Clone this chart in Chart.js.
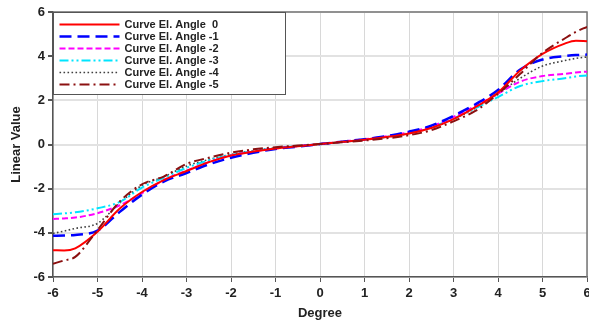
<!DOCTYPE html>
<html>
<head>
<meta charset="utf-8">
<script src="https://cdn.jsdelivr.net/npm/chart.js@4/dist/chart.umd.min.js"></script>
<style>
  html, body { margin: 0; padding: 0; background: #fff; }
  #wrap { width: 589px; height: 325px; }
</style>
</head>
<body>
<div id="wrap"><canvas id="curveChart"></canvas></div>
<script>
// Degree positions (x) shared by every curve
const degrees = [-6, -5.75, -5.5, -5, -4.5, -4, -3.5, -3, -2.5, -2, -1.5, -1, -0.5, 0,
                 0.5, 1, 1.5, 2, 2.5, 3, 3.5, 4, 4.5, 5, 5.5, 5.75, 6];

// Linear value per elevation angle
const angle0  = [-4.79, -4.8, -4.7, -3.95, -2.9, -2.15, -1.6, -1.2, -0.8, -0.5, -0.32, -0.18, -0.08, 0.02,
                 0.12, 0.22, 0.34, 0.5, 0.75, 1.15, 1.7, 2.35, 3.35, 4.1, 4.57, 4.7, 4.68];
const angleM1 = [-4.13, -4.12, -4.1, -3.9, -3.05, -2.27, -1.67, -1.29, -0.9, -0.6, -0.38, -0.2, -0.1, 0.02,
                 0.13, 0.24, 0.38, 0.58, 0.85, 1.3, 1.83, 2.47, 3.4, 3.85, 4.0, 4.05, 4.07];
const angleM2 = [-3.37, -3.35, -3.31, -3.11, -2.75, -2.2, -1.6, -1.18, -0.8, -0.5, -0.32, -0.18, -0.08, 0.02,
                 0.13, 0.24, 0.37, 0.56, 0.82, 1.25, 1.75, 2.3, 2.85, 3.1, 3.2, 3.26, 3.3];
const angleM3 = [-3.16, -3.12, -3.07, -2.89, -2.6, -1.95, -1.5, -1.06, -0.72, -0.47, -0.3, -0.17, -0.07, 0.02,
                 0.12, 0.22, 0.35, 0.52, 0.78, 1.18, 1.65, 2.15, 2.65, 2.87, 3.0, 3.08, 3.13];
const angleM4 = [-4.03, -3.92, -3.8, -3.57, -2.65, -1.85, -1.45, -0.98, -0.68, -0.45, -0.28, -0.15, -0.07, 0.02,
                 0.12, 0.22, 0.34, 0.5, 0.75, 1.15, 1.65, 2.3, 3.0, 3.55, 3.8, 3.9, 3.96];
const angleM5 = [-5.4, -5.25, -5.09, -3.87, -2.58, -1.8, -1.44, -0.88, -0.6, -0.37, -0.22, -0.12, -0.05, 0.02,
                 0.1, 0.18, 0.28, 0.42, 0.65, 1.05, 1.53, 2.29, 3.2, 4.15, 4.8, 5.1, 5.33];

const seriesLabels = ['Curve El. Angle  0', 'Curve El. Angle -1', 'Curve El. Angle -2',
                      'Curve El. Angle -3', 'Curve El. Angle -4', 'Curve El. Angle -5'];

const FONT = '"Liberation Sans", Arial, sans-serif';

function toPoints(values) {
    return degrees.map((d, i) => ({ x: d, y: values[i] }));
}

// Legend box drawn inside the plot, top-left corner
const boxLegend = {
    id: 'boxLegend',
    afterDatasetsDraw(chart) {
        const ctx = chart.ctx;
        const area = chart.chartArea;
        const x0 = Math.round(area.left) + 0.5;
        const y0 = Math.round(area.top) + 0.5;
        const w = 232, h = 82;
        ctx.save();
        ctx.fillStyle = '#fff';
        ctx.fillRect(x0, y0, w, h);
        ctx.strokeStyle = '#555';
        ctx.lineWidth = 1;
        ctx.strokeRect(x0, y0, w, h);
        ctx.font = 'bold 11px ' + FONT;
        ctx.textBaseline = 'middle';
        chart.data.datasets.forEach((ds, i) => {
            const y = y0 + 12 + i * 12;
            ctx.strokeStyle = ds.borderColor;
            ctx.lineWidth = ds.borderWidth;
            ctx.setLineDash(ds.borderDash || []);
            ctx.beginPath();
            ctx.moveTo(x0 + 6, y);
            ctx.lineTo(x0 + 66, y);
            ctx.stroke();
            ctx.setLineDash([]);
            ctx.fillStyle = '#222';
            ctx.fillText(ds.label, x0 + 71, y + 0.5);
        });
        ctx.restore();
    }
};

// Top and right frame of the plot area
const plotFrame = {
    id: 'plotFrame',
    beforeDatasetsDraw(chart) {
        const ctx = chart.ctx;
        const a = chart.chartArea;
        ctx.save();
        ctx.strokeStyle = '#777';
        ctx.lineWidth = 1.5;
        ctx.beginPath();
        ctx.moveTo(a.left, a.top);
        ctx.lineTo(a.right, a.top);
        ctx.lineTo(a.right, a.bottom);
        ctx.stroke();
        ctx.restore();
    }
};

new Chart(document.getElementById('curveChart'), {
    type: 'line',
    data: {
        datasets: [
            { label: seriesLabels[0], data: toPoints(angle0),  borderColor: '#ff0000', borderWidth: 2,   borderDash: [],               order: 2 },
            { label: seriesLabels[1], data: toPoints(angleM1), borderColor: '#0000ff', borderWidth: 2.5, borderDash: [12, 6],          order: 3 },
            { label: seriesLabels[2], data: toPoints(angleM2), borderColor: '#ff00ff', borderWidth: 2,   borderDash: [6, 3],           order: 4 },
            { label: seriesLabels[3], data: toPoints(angleM3), borderColor: '#00e5ff', borderWidth: 2,   borderDash: [9, 3, 2, 3, 2, 3], order: 5 },
            { label: seriesLabels[4], data: toPoints(angleM4), borderColor: '#404040', borderWidth: 1.6, borderDash: [1.6, 2.4],       order: 6 },
            { label: seriesLabels[5], data: toPoints(angleM5), borderColor: '#8b1010', borderWidth: 2,   borderDash: [10, 4, 2, 4],    order: 1 }
        ]
    },
    options: {
        responsive: true,
        maintainAspectRatio: false,
        animation: false,
        layout: { padding: { top: 12, right: 2, left: 0, bottom: 0 } },
        elements: {
            point: { radius: 0 },
            line: { cubicInterpolationMode: 'monotone', fill: false }
        },
        plugins: {
            legend: { display: false },
            tooltip: { enabled: false }
        },
        scales: {
            x: {
                type: 'linear',
                min: -6,
                max: 6,
                afterFit: s => { s.height = 48; s.paddingLeft = 0; s.paddingRight = 0; },
                ticks: { stepSize: 1, color: '#222', font: { family: FONT, size: 13, weight: 'bold' }, padding: 4 },
                grid: { color: '#d8d8d8', lineWidth: 1, tickLength: 5, tickColor: '#555' },
                border: { color: '#555', width: 1.5 },
                title: { display: true, text: 'Degree', color: '#222', font: { family: FONT, size: 13, weight: 'bold' }, padding: { top: 2, bottom: 4 } }
            },
            y: {
                type: 'linear',
                min: -6,
                max: 6,
                afterFit: s => { s.width = 53; s.paddingTop = 0; s.paddingBottom = 0; },
                ticks: { stepSize: 2, color: '#222', font: { family: FONT, size: 13, weight: 'bold' }, padding: 3 },
                grid: { color: '#e2e2e2', lineWidth: 2, tickLength: 5, tickColor: '#555' },
                border: { color: '#555', width: 1.5 },
                title: { display: true, text: 'Linear Value', color: '#222', font: { family: FONT, size: 13, weight: 'bold' }, padding: { top: 9, bottom: 0 } }
            }
        }
    },
    plugins: [plotFrame, boxLegend]
});
</script>
</body>
</html>
